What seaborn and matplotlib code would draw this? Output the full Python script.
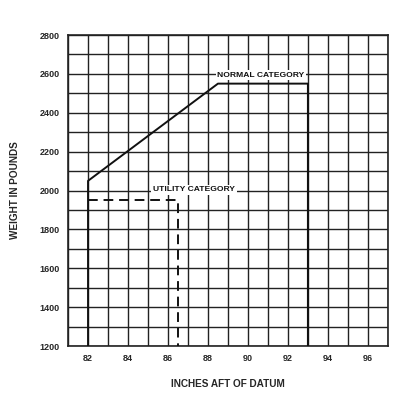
import numpy as np
import pandas as pd
import seaborn as sns
import matplotlib.pyplot as plt

# envelope data (inches aft of datum vs weight in pounds)
normal_x = [82, 82, 88.5, 93, 93]
normal_y = [1200, 2050, 2550, 2550, 1200]
utility_x = [82, 86.5, 86.5]
utility_y = [1950, 1950, 1200]

x_ticks = [82, 84, 86, 88, 90, 92, 94, 96]
y_ticks = [1200, 1400, 1600, 1800, 2000, 2200, 2400, 2600, 2800]

sns.set_style("white")
plt.rcParams['font.family'] = ['Liberation Sans', 'DejaVu Sans']
plt.rcParams['font.weight'] = 'bold'

fig = plt.figure(figsize=(4.1, 4.12), dpi=100)
ax = fig.add_axes([0.166, 0.160, 0.780, 0.755])

# grid every inch / every 100 lb
for gx in np.arange(81, 98, 1):
    ax.axvline(gx, color='#222222', lw=1.0, zorder=1)
for gy in np.arange(1200, 2900, 100):
    ax.axhline(gy, color='#222222', lw=1.0, zorder=1)

normal = pd.DataFrame({'x': normal_x, 'y': normal_y})
utility = pd.DataFrame({'x': utility_x, 'y': utility_y})

sns.lineplot(data=normal, x='x', y='y', sort=False, estimator=None, color='#111111',
             lw=1.4, ax=ax, zorder=3)
sns.lineplot(data=utility, x='x', y='y', sort=False, estimator=None, color='#111111',
             lw=1.4, ax=ax, zorder=3, linestyle=(0, (5, 3)))

ax.text(90.65, 2594, 'NORMAL CATEGORY', ha='center', va='center', fontsize=6.1,
        fontweight='bold', color='#111111', zorder=4,
        bbox=dict(facecolor='white', edgecolor='none', pad=1.2))
ax.text(87.3, 2003, 'UTILITY CATEGORY', ha='center', va='center', fontsize=6.1,
        fontweight='bold', color='#111111', zorder=4,
        bbox=dict(facecolor='white', edgecolor='none', pad=1.2))

ax.set_xlim(81, 97)
ax.set_ylim(1200, 2800)
ax.set_xticks(x_ticks)
ax.set_yticks(y_ticks)
ax.set_xticklabels([str(t) for t in x_ticks], fontsize=6.5, fontweight='bold')
ax.set_yticklabels([str(t) for t in y_ticks], fontsize=6.5, fontweight='bold')
ax.tick_params(length=0, pad=6)
for s in ax.spines.values():
    s.set_color('#222222')
    s.set_linewidth(1.2)

ax.set_xlabel('INCHES AFT OF DATUM', fontsize=7.2, fontweight='bold', labelpad=11)
ax.set_ylabel('WEIGHT IN POUNDS', fontsize=7.2, fontweight='bold', labelpad=14)

fig.savefig('out.png', dpi=100, facecolor='white')
